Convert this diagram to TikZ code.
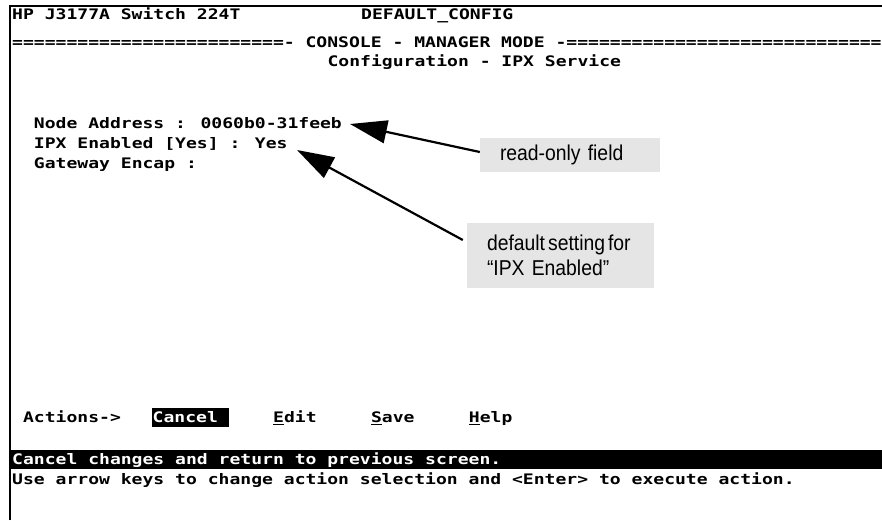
\documentclass[tikz,border=0pt]{standalone}
\usepackage{fontspec}
\usetikzlibrary{arrows.meta}
\newfontfamily\termfont{DejaVu Sans Mono}[FakeStretch=1.245]
\newfontfamily\notefont{Liberation Sans}[FakeStretch=0.9]

\begin{document}
\begin{tikzpicture}[x=1pt,y=-1pt,
  term/.style={anchor=base west, inner sep=0pt, font=\termfont\bfseries\fontsize{14.5}{19}\selectfont},
  hilite/.style={term, fill=black, text=white, minimum height=19pt, inner xsep=0.5pt},
  statusbar/.style={anchor=north west, fill=black, inner sep=0pt, minimum width=872pt, minimum height=19pt},
  notebox/.style={fill=black!10, inner xsep=20pt, align=left, font=\notefont\fontsize{21.5}{25}\selectfont},
  callout/.style={-{Triangle[length=37pt,width=23pt]}, line width=2.2pt}]
\useasboundingbox (0,0) rectangle (882,520);
\clip (0,0) rectangle (882,520);
\draw[line width=1.6pt] (10,520) -- (10,6) -- (882,6);
\node[term] (title) at (12,19) {HP J3177A Switch 224T};
\node[term] (cfgname) at (361,19) {DEFAULT\_CONFIG};
\node[term] (mode) at (12,47.5) {=========================- CONSOLE - MANAGER MODE -=============================};
\node[term] (screen) at (327.4,66.5) {Configuration - IPX Service};
\node[term] (naddr) at (33.75,128.5) {Node Address : 0060b0-31feeb};
\node[term] (ipx) at (33.75,148.5) {IPX Enabled [Yes] : Yes};
\node[term] (gwenc) at (33.75,168) {Gateway Encap :};
\node[term] (actions) at (22.9,422.5) {Actions->};
\node[hilite] (cancel) at (152,422.5) {Cancel\hspace*{10.9pt}};
\node[term] (edit) at (273,422.5) {\underline{E}dit};
\node[term] (save) at (370.9,422.5) {\underline{S}ave};
\node[term] (help) at (468.75,422.5) {\underline{H}elp};
\node[statusbar] (status) at (10,450) {};
\node[term, text=white] (statusmsg) at (12,464.5) {Cancel changes and return to previous screen.};
\node[term] (hint) at (12,484.5) {Use arrow keys to change action selection and <Enter> to execute action.};
\node[notebox, minimum width=180pt, minimum height=34pt, text width=140pt] (ronote) at (570,155) {read-only field};
\node[notebox, minimum width=187pt, minimum height=65pt, text width=147pt] (dfnote) at (560.5,255.5) {default\hspace{3pt}setting\hspace{3pt}for\\“IPX Enabled”};
\coordinate (addrtip) at (350,124);
\coordinate (ipxtip) at (297,150);
\draw[callout] ([yshift=3pt]ronote.west) -- (addrtip);
\draw[callout] ([xshift=-4pt,yshift=15.5pt]dfnote.west) -- (ipxtip);
\end{tikzpicture}
\end{document}
